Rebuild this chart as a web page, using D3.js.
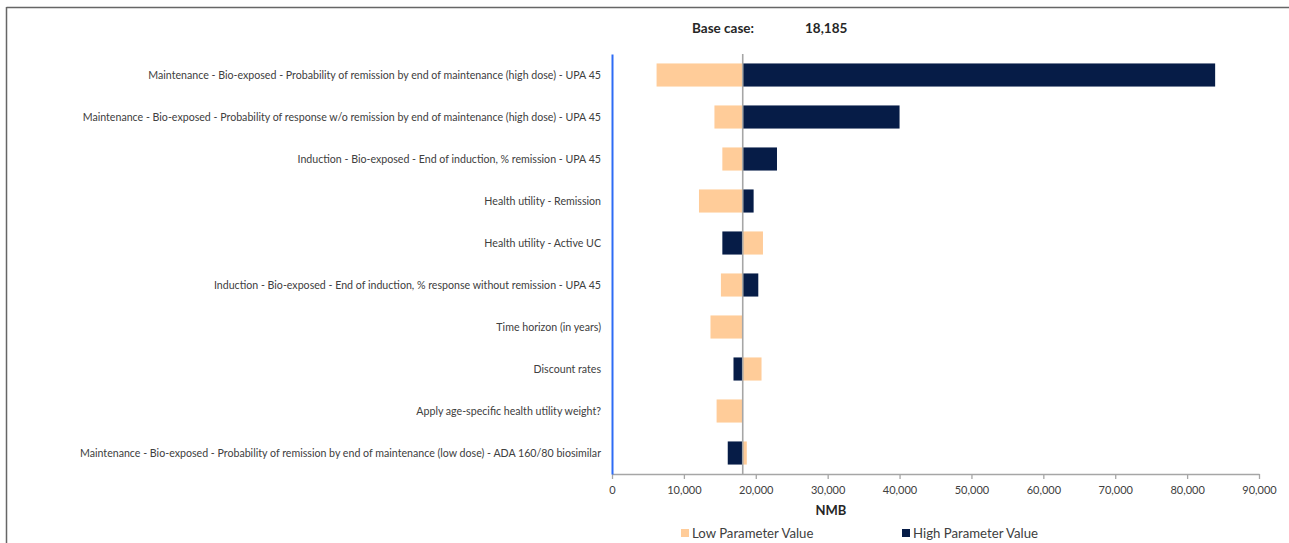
<!DOCTYPE html>
<html><head><meta charset="utf-8">
<script src="https://cdn.jsdelivr.net/npm/d3@7/dist/d3.min.js"></script>
<style>
html,body{margin:0;padding:0;background:#fff;}
svg{display:block;font-family:Lato,"Liberation Sans",sans-serif;}
</style></head>
<body>
<script>
const categories = [
  "Maintenance - Bio-exposed - Probability of remission by end of maintenance (high dose) - UPA 45",
  "Maintenance - Bio-exposed - Probability of response w/o remission by end of maintenance (high dose) - UPA 45",
  "Induction - Bio-exposed - End of induction, % remission - UPA 45",
  "Health utility - Remission",
  "Health utility - Active UC",
  "Induction - Bio-exposed - End of induction, % response without remission - UPA 45",
  "Time horizon (in years)",
  "Discount rates",
  "Apply age-specific health utility weight?",
  "Maintenance - Bio-exposed - Probability of remission by end of maintenance (low dose) - ADA 160/80 biosimilar"
];
const baseCase = 18185;
const lowValues  = [6200, 14250, 15350, 12100, 21000, 15150, 13700, 20800, 14550, 18750];
const highValues = [83900, 40000, 22950, 19700, 15350, 20350, 18185, 16900, 18185, 16100];
const xTicks = [0,10000,20000,30000,40000,50000,60000,70000,80000,90000];
const seriesNames = ["Low Parameter Value", "High Parameter Value"];
const colors = {low:"#FFCC99", high:"#061C47"};

const W = 1289, H = 543;
const svg = d3.select("body").append("svg").attr("width", W).attr("height", H);

// frame
svg.append("line").attr("x1",6.5).attr("x2",W).attr("y1",7.5).attr("y2",7.5).attr("stroke","#666").attr("stroke-width",1.5);
svg.append("line").attr("x1",6.5).attr("x2",6.5).attr("y1",7).attr("y2",H).attr("stroke","#666").attr("stroke-width",1.5);

const x = d3.scaleLinear().domain([0,90000]).range([612,1259]);
const y = d3.scaleBand().domain(categories).range([54,474]).paddingInner(0.45).paddingOuter(0.225);

// bars
const rows = categories.map((c,i)=>({c, low:lowValues[i], high:highValues[i]}));
const g = svg.append("g");
rows.forEach(r=>{
  [["low",r.low],["high",r.high]].forEach(([k,v])=>{
    const x0 = Math.min(v, baseCase), x1 = Math.max(v, baseCase);
    g.append("rect").attr("x", x(x0)).attr("y", y(r.c)).attr("width", x(x1)-x(x0))
      .attr("height", y.bandwidth()).attr("fill", colors[k]);
  });
});

// x axis
const xAxis = d3.axisBottom(x).tickValues(xTicks).tickSize(5).tickSizeOuter(0).tickFormat(d3.format(","));
const ax = svg.append("g").attr("transform","translate(0,474)").call(xAxis);
ax.select(".domain").attr("stroke","#A6A6A6").attr("stroke-width",1.3);
ax.selectAll(".tick line").attr("stroke","#A6A6A6").attr("stroke-width",1.3);
ax.selectAll(".tick text").attr("fill","#404040").attr("font-size","11px").attr("dy","0.71em").attr("y",12)
  .style("font-family","Lato");

// base line
svg.append("line").attr("x1",x(baseCase)).attr("x2",x(baseCase)).attr("y1",54).attr("y2",474)
  .attr("stroke","#A6A6A6").attr("stroke-width",1.6);

// y axis (blue)
const yAxis = d3.axisLeft(y).tickSize(0).tickPadding(11);
const ay = svg.append("g").attr("transform","translate(612,0)").call(yAxis);
ay.select(".domain").attr("stroke","#2E6CF5").attr("stroke-width",2);
const lbl = ay.selectAll(".tick text").attr("fill","#404040").attr("font-size","10px").attr("dy","0.42em").style("font-family","Lato");
// fit label size to reference width
const w0 = lbl.nodes()[0].getComputedTextLength();
const fs = 10*453/w0;
lbl.attr("font-size", fs+"px");

// base case text
svg.append("text").attr("x",692).attr("y",33).attr("font-size","13.5px").attr("font-weight","bold").attr("fill","#262626").text("Base case:");
svg.append("text").attr("x",805).attr("y",33).attr("font-size","13.5px").attr("font-weight","bold").attr("fill","#262626").text(d3.format(",")(baseCase));

// axis title
svg.append("text").attr("x",831).attr("y",515).attr("text-anchor","middle").attr("font-size","13px").attr("font-weight","bold").attr("fill","#262626").text("NMB");

// legend
const leg = [{n:seriesNames[0],c:colors.low,x:681},{n:seriesNames[1],c:colors.high,x:902}];
leg.forEach(l=>{
  svg.append("rect").attr("x",l.x).attr("y",529).attr("width",8).attr("height",8).attr("fill",l.c);
  svg.append("text").attr("x",l.x+11).attr("y",537.5).attr("font-size","13.2px").attr("fill","#404040").text(l.n);
});
</script>
</body></html>
